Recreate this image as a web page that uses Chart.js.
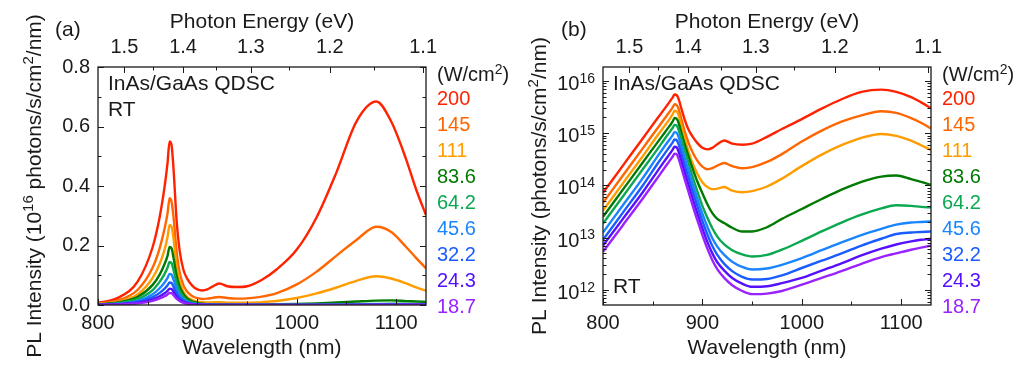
<!DOCTYPE html>
<html>
<head>
<meta charset="utf-8">
<script src="https://cdn.jsdelivr.net/npm/chart.js@4.4.1/dist/chart.umd.min.js"></script>
<style>
  html, body { margin: 0; padding: 0; background: #fff; }
  #wrap { position: relative; width: 1024px; height: 369px; overflow: hidden; }
  canvas { position: absolute; top: 0; }
  #plA { left: 0; }
  #plB { left: 512px; }
</style>
</head>
<body>
<div id="wrap">
  <canvas id="plA" width="512" height="369"></canvas>
  <canvas id="plB" width="512" height="369"></canvas>
</div>
<script>
// PL spectra of InAs/GaAs QDSC at RT
// values are log10 of PL intensity (photons/s/cm2/nm)
const wavelength = [800, 820, 840, 855, 862, 867, 870, 872, 874, 876, 879, 882, 886, 890, 895, 900, 905, 910, 915, 922, 930, 940, 950, 965, 980, 1000, 1020, 1040, 1060, 1080, 1095, 1110, 1120, 1130];

const logPL200 = [13.86, 14.38, 14.90, 15.29, 15.47, 15.60, 15.68, 15.74, 15.73, 15.66, 15.46, 15.27, 15.07, 14.94, 14.81, 14.72, 14.69, 14.72, 14.79, 14.86, 14.80, 14.78, 14.80, 14.93, 15.08, 15.27, 15.47, 15.65, 15.79, 15.835, 15.79, 15.69, 15.59, 15.48];
const logPL145 = [13.67, 14.19, 14.71, 15.10, 15.28, 15.41, 15.49, 15.555, 15.54, 15.47, 15.26, 15.05, 14.82, 14.64, 14.47, 14.36, 14.31, 14.33, 14.38, 14.43, 14.37, 14.33, 14.35, 14.45, 14.60, 14.84, 15.05, 15.22, 15.34, 15.42, 15.39, 15.29, 15.20, 15.09];
const logPL111 = [13.52, 14.04, 14.56, 14.96, 15.14, 15.27, 15.36, 15.43, 15.42, 15.35, 15.13, 14.91, 14.65, 14.43, 14.22, 14.06, 13.97, 13.93, 13.94, 13.97, 13.90, 13.87, 13.89, 13.98, 14.13, 14.37, 14.59, 14.77, 14.91, 14.985, 14.95, 14.86, 14.77, 14.68];
const logPL83 = [13.40, 13.92, 14.44, 14.83, 15.01, 15.14, 15.22, 15.29, 15.28, 15.20, 15.00, 14.80, 14.56, 14.33, 14.07, 13.85, 13.64, 13.47, 13.36, 13.28, 13.19, 13.12, 13.12, 13.20, 13.36, 13.55, 13.74, 13.92, 14.07, 14.17, 14.19, 14.12, 14.07, 14.01];
const logPL64 = [13.27, 13.79, 14.31, 14.70, 14.89, 15.02, 15.10, 15.16, 15.15, 15.07, 14.88, 14.68, 14.43, 14.18, 13.88, 13.61, 13.38, 13.18, 13.02, 12.87, 12.76, 12.68, 12.64, 12.67, 12.77, 12.94, 13.12, 13.29, 13.44, 13.56, 13.62, 13.61, 13.59, 13.58];
const logPL45 = [13.10, 13.62, 14.14, 14.56, 14.75, 14.88, 14.96, 15.02, 15.01, 14.93, 14.74, 14.54, 14.29, 14.04, 13.74, 13.46, 13.21, 12.99, 12.83, 12.67, 12.54, 12.44, 12.39, 12.41, 12.48, 12.61, 12.76, 12.91, 13.05, 13.17, 13.25, 13.29, 13.30, 13.31];
const logPL32 = [12.96, 13.48, 14.00, 14.42, 14.61, 14.74, 14.82, 14.88, 14.87, 14.79, 14.60, 14.40, 14.15, 13.90, 13.60, 13.32, 13.06, 12.84, 12.67, 12.50, 12.36, 12.25, 12.20, 12.21, 12.28, 12.42, 12.56, 12.70, 12.85, 12.98, 13.07, 13.10, 13.11, 13.12];
const logPL24 = [12.85, 13.36, 13.87, 14.28, 14.47, 14.60, 14.68, 14.74, 14.73, 14.65, 14.46, 14.26, 14.01, 13.76, 13.46, 13.18, 12.92, 12.70, 12.53, 12.37, 12.23, 12.12, 12.06, 12.07, 12.13, 12.23, 12.37, 12.51, 12.66, 12.79, 12.87, 12.93, 12.96, 12.98];
const logPL18 = [12.73, 13.24, 13.75, 14.15, 14.34, 14.47, 14.55, 14.61, 14.60, 14.52, 14.33, 14.13, 13.88, 13.63, 13.33, 13.05, 12.79, 12.57, 12.40, 12.23, 12.09, 11.98, 11.92, 11.93, 11.98, 12.10, 12.23, 12.36, 12.50, 12.63, 12.70, 12.77, 12.81, 12.85];

const powerLabels = ['200', '145', '111', '83.6', '64.2', '45.6', '32.2', '24.3', '18.7'];
const powerColors = ['#ff2200', '#ff6600', '#ff9c00', '#007a00', '#0aa850', '#1a85ff', '#1a5cff', '#5511ff', '#9922ff'];
const spectra = [logPL200, logPL145, logPL111, logPL83, logPL64, logPL45, logPL32, logPL24, logPL18];

// axis ticks
const wavelengthTicks = [800, 850, 900, 950, 1000, 1050, 1100];
const energyTicks = [1.5, 1.45, 1.4, 1.35, 1.3, 1.25, 1.2, 1.15, 1.1];
const HC = 1239.84;

const FONT = "'Liberation Sans', Arial, Helvetica, sans-serif";
const INK = '#1a1a1a';

function makeDatasets(scaleFactor) {
  return spectra.map((logs, i) => ({
    label: powerLabels[i],
    data: wavelength.map((w, j) => ({ x: w, y: Math.pow(10, logs[j]) / scaleFactor })),
    borderColor: powerColors[i],
    borderWidth: 2.4,
    pointRadius: 0,
    cubicInterpolationMode: 'monotone',
    fill: false,
    order: spectra.length - i,
  }));
}

// text with superscripts: parts = [[text, isSup], ...], y is the baseline
function drawRich(ctx, parts, x, y, align, size) {
  const supSize = Math.round(size * 0.7);
  let w = 0;
  parts.forEach(([t, sup]) => {
    ctx.font = (sup ? supSize : size) + 'px ' + FONT;
    w += ctx.measureText(t).width;
  });
  let cx = align === 'center' ? x - w / 2 : align === 'right' ? x - w : x;
  ctx.textAlign = 'left';
  ctx.textBaseline = 'alphabetic';
  parts.forEach(([t, sup]) => {
    ctx.font = (sup ? supSize : size) + 'px ' + FONT;
    ctx.fillText(t, cx, sup ? y - size * 0.36 : y);
    cx += ctx.measureText(t).width;
  });
}

// frame + inward ticks on all four sides
const frameTicks = {
  id: 'frameTicks',
  afterDraw(chart) {
    const { ctx, chartArea: a, scales } = chart;
    ctx.save();
    ctx.strokeStyle = INK;
    ctx.lineWidth = 1;
    ctx.beginPath();
    scales.x.ticks.forEach((t) => {
      const px = Math.round(scales.x.getPixelForValue(t.value)) + 0.5;
      const len = t.label !== '' ? 6 : 3.5;
      ctx.moveTo(px, a.bottom);
      ctx.lineTo(px, a.bottom - len);
    });
    scales.xTop.ticks.forEach((t) => {
      const px = Math.round(scales.xTop.getPixelForValue(t.value)) + 0.5;
      const len = t.label !== '' ? 6 : 3.5;
      ctx.moveTo(px, a.top);
      ctx.lineTo(px, a.top + len);
    });
    scales.y.ticks.forEach((t) => {
      const py = Math.round(scales.y.getPixelForValue(t.value)) + 0.5;
      const len = t.label !== '' ? 6 : 3.5;
      ctx.moveTo(a.left, py);
      ctx.lineTo(a.left + len, py);
      ctx.moveTo(a.right, py);
      ctx.lineTo(a.right - len, py);
    });
    ctx.stroke();
    ctx.lineWidth = 1.3;
    ctx.strokeRect(a.left, a.top, a.right - a.left, a.bottom - a.top);
    ctx.restore();
  },
};

// panel tag, y title, sample labels, log tick labels and the power legend
function makeLabels(cfg) {
  return {
    id: 'panelLabels',
    afterDraw(chart) {
      const { ctx, chartArea: a, scales } = chart;
      ctx.save();
      ctx.fillStyle = INK;
      ctx.textBaseline = 'middle';
      ctx.textAlign = 'left';
      ctx.font = '21px ' + FONT;
      ctx.fillText(cfg.tag, cfg.tagX, 30);
      ctx.fillText('InAs/GaAs QDSC', a.left + 10, 84);
      ctx.fillText('RT', a.left + 10, cfg.rtY);

      // rotated y title
      ctx.save();
      ctx.translate(cfg.titleX, (a.top + a.bottom) / 2);
      ctx.rotate(-Math.PI / 2);
      drawRich(ctx, cfg.titleParts, 0, 7.5, 'center', 21);
      ctx.restore();

      if (cfg.logLabels) {
        const s = scales.y;
        s.ticks.forEach((t) => {
          if (t.label === '') return;
          const py = s.getPixelForValue(t.value);
          const exp = String(Math.round(Math.log10(t.value)));
          drawRich(ctx, [['10', false], [exp, true]], a.left - 8, py + 9, 'right', 20);
        });
      }

      const lx = a.right + 11;
      drawRich(ctx, [['(W/cm', false], ['2', true], [')', false]], lx, 81, 'left', 20);
      ctx.textBaseline = 'middle';
      ctx.font = '20px ' + FONT;
      powerLabels.forEach((p, i) => {
        ctx.fillStyle = powerColors[i];
        ctx.fillText(p, lx, 99.5 + 26 * i);
      });
      ctx.restore();
    },
  };
}

function topAxis() {
  return {
    type: 'linear',
    position: 'top',
    min: 800,
    max: 1130,
    afterBuildTicks: (s) => {
      s.ticks = energyTicks.map((e) => ({ value: HC / e }));
    },
    ticks: {
      autoSkip: false,
      maxRotation: 0,
      padding: 8,
      color: INK,
      font: { size: 20, family: FONT },
      callback: (v) => {
        const e = HC / v;
        return Math.abs(e * 10 - Math.round(e * 10)) < 1e-6 ? e.toFixed(1) : '';
      },
    },
    grid: { display: false, drawTicks: false },
    border: { display: false },
    title: { display: true, text: 'Photon Energy (eV)', color: INK, font: { size: 21, family: FONT }, padding: { top: 10, bottom: 0 } },
    afterFit: (s) => { s.height = 67; },
  };
}

function bottomAxis() {
  return {
    type: 'linear',
    position: 'bottom',
    min: 800,
    max: 1130,
    afterBuildTicks: (s) => {
      s.ticks = wavelengthTicks.map((w) => ({ value: w }));
    },
    ticks: {
      autoSkip: false,
      maxRotation: 0,
      padding: 6,
      color: INK,
      font: { size: 20, family: FONT },
      callback: (v) => (v % 100 === 0 ? String(v) : ''),
    },
    grid: { display: false, drawTicks: false },
    border: { display: false },
    title: { display: true, text: 'Wavelength (nm)', color: INK, font: { size: 21, family: FONT }, padding: { top: 0, bottom: 8 } },
    afterFit: (s) => { s.height = 64; },
  };
}

// (a) linear scale
new Chart(document.getElementById('plA'), {
  type: 'line',
  data: { datasets: makeDatasets(1e16) },
  options: {
    responsive: false,
    animation: false,
    layout: { padding: { right: 86 } },
    plugins: { legend: { display: false }, tooltip: { enabled: false } },
    scales: {
      x: bottomAxis(),
      xTop: topAxis(),
      y: {
        type: 'linear',
        min: 0,
        max: 0.8,
        ticks: {
          stepSize: 0.1,
          padding: 8,
          color: INK,
          font: { size: 20, family: FONT },
          callback: (v) => (Math.round(v * 10) % 2 === 0 ? v.toFixed(1) : ''),
        },
        grid: { display: false, drawTicks: false },
        border: { display: false },
        title: { display: false },
        afterFit: (s) => { s.width = 98; },
      },
    },
  },
  plugins: [frameTicks, makeLabels({
    tag: '(a)', tagX: 55, rtY: 110, titleX: 33,
    titleParts: [['PL Intensity (10', false], ['16', true], [' photons/s/cm', false], ['2', true], ['/nm)', false]],
  })],
});

// (b) log scale
new Chart(document.getElementById('plB'), {
  type: 'line',
  data: { datasets: makeDatasets(1) },
  options: {
    responsive: false,
    animation: false,
    layout: { padding: { right: 93 } },
    plugins: { legend: { display: false }, tooltip: { enabled: false } },
    scales: {
      x: bottomAxis(),
      xTop: topAxis(),
      y: {
        type: 'logarithmic',
        min: 5.15e11,
        max: 1.85e16,
        afterBuildTicks: (s) => {
          const t = [];
          for (let d = 11; d <= 16; d++) {
            for (let m = 1; m <= 9; m++) {
              const v = m * Math.pow(10, d);
              if (v >= s.min && v <= s.max) t.push({ value: v });
            }
          }
          s.ticks = t;
        },
        ticks: {
          display: false,
          autoSkip: false,
          callback: (v) => {
            const d = Math.log10(v);
            return Math.abs(d - Math.round(d)) < 1e-6 ? '1e' + Math.round(d) : '';
          },
        },
        grid: { display: false, drawTicks: false },
        border: { display: false },
        title: { display: false },
        afterFit: (s) => { s.width = 91; },
      },
    },
  },
  plugins: [frameTicks, makeLabels({
    tag: '(b)', tagX: 49, rtY: 287, titleX: 26, logLabels: true,
    titleParts: [['PL Intensity (photons/s/cm', false], ['2', true], ['/nm)', false]],
  })],
});
</script>
</body>
</html>
